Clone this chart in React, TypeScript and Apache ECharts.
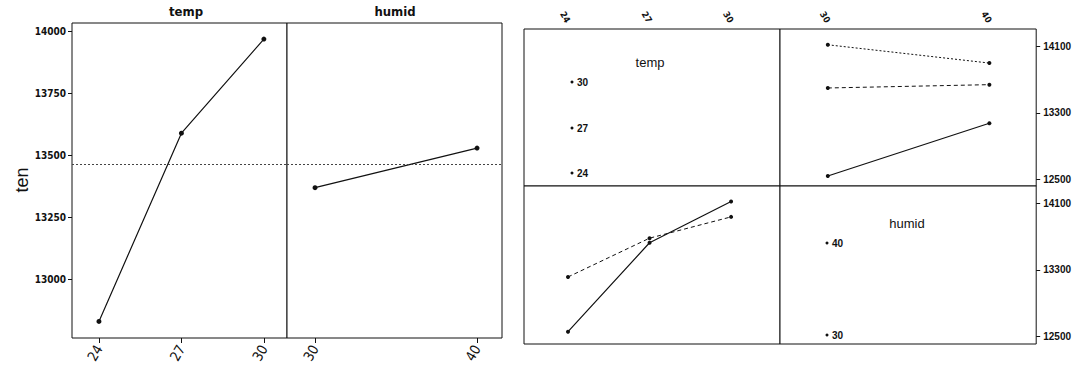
import React, { useEffect, useRef } from "react";
import * as echarts from "echarts";

// ---- data ----
const tempLevels = [24, 27, 30];
const humidLevels = [30, 40];
const tempMeans = [12830, 13590, 13970];
const humidMeans = [13370, 13530];
const grandMean = 13465;
const mainTicks = [13000, 13250, 13500, 13750, 14000];
const interTicks = [12500, 13300, 14100];
// top-right panel: x = humid, one line per temp level
const temp24ByHumid = [12540, 13175];
const temp27ByHumid = [13600, 13640];
const temp30ByHumid = [14120, 13900];
// bottom-left panel: x = temp, one line per humid level
const humid30ByTemp = [12560, 13625, 14120];
const humid40ByTemp = [13215, 13680, 13935];

const FONT = "'DejaVu Sans Condensed', 'Liberation Sans Narrow', 'Liberation Sans', sans-serif";
const SANS = "'Liberation Sans', Arial, sans-serif";
const INK = "#111";

const pairs = (xs: number[], ys: number[]) => xs.map((x, i) => [x, ys[i]]);
const plain = (v: number) => String(v);

export default function App() {
  const ref = useRef<HTMLDivElement>(null);
  useEffect(() => {
    if (!ref.current) return;
    const chart = echarts.init(ref.current, undefined, { renderer: "svg" });
    const gridBase = { show: true, borderColor: INK, borderWidth: 1, backgroundColor: "#fff" };
    const hidden = (gridIndex: number, min: number, max: number) => ({
      type: "value", gridIndex, min, max, show: false, splitLine: { show: false },
    });
    const mainLine = (xi: number, yi: number, xs: number[], ys: number[]) => ({
      type: "line", xAxisIndex: xi, yAxisIndex: yi, data: pairs(xs, ys),
      symbol: "circle", symbolSize: 5, itemStyle: { color: INK },
      lineStyle: { color: INK, width: 1.2 },
      markLine: {
        silent: true, symbol: "none", label: { show: false },
        lineStyle: { color: "#444", type: [2, 2], width: 1 },
        data: [{ yAxis: grandMean }],
      },
    });
    const interLine = (xi: number, yi: number, xs: number[], ys: number[], type: any, w = 1.2) => ({
      type: "line", xAxisIndex: xi, yAxisIndex: yi, data: pairs(xs, ys),
      symbol: "circle", symbolSize: 4, itemStyle: { color: INK },
      lineStyle: { color: INK, width: w, type },
    });
    const legendItem = (x: number, y: number, label: string) => [
      { type: "circle", shape: { cx: x, cy: y, r: 1.5 }, style: { fill: INK } },
      { type: "text", x: x + 5, y, style: { text: label, font: `bold 10px ${SANS}`, fill: INK, textVerticalAlign: "middle" } },
    ];
    const rightAxis = (gridIndex: number, min: number, max: number) => ({
      type: "value", gridIndex, position: "right", min, max, splitLine: { show: false },
      axisLine: { show: false },
      axisTick: { show: true, customValues: interTicks, length: 4, lineStyle: { color: INK } },
      axisLabel: { customValues: interTicks, formatter: plain, fontSize: 10, fontWeight: "bold", fontFamily: SANS, color: INK, margin: 7 },
    });

    const option: any = {
      animation: false,
      backgroundColor: "#fff",
      grid: [
        { ...gridBase, left: 72, top: 23, width: 215, height: 315 },
        { ...gridBase, left: 287, top: 23, width: 215, height: 315 },
        { ...gridBase, left: 524, top: 29, width: 256, height: 157 },
        { ...gridBase, left: 780, top: 29, width: 257, height: 157 },
        { ...gridBase, left: 524, top: 186, width: 256, height: 158 },
        { ...gridBase, left: 780, top: 186, width: 257, height: 158 },
      ],
      xAxis: [
        {
          type: "value", gridIndex: 0, min: 23.02, max: 30.84, splitLine: { show: false },
          axisLine: { show: false },
          axisTick: { show: true, customValues: tempLevels, length: 5, lineStyle: { color: INK } },
          axisLabel: { customValues: tempLevels, rotate: 60, fontSize: 14, fontFamily: FONT, color: INK, margin: 8 },
        },
        {
          type: "value", gridIndex: 1, min: 28.27, max: 41.54, splitLine: { show: false },
          axisLine: { show: false },
          axisTick: { show: true, customValues: humidLevels, length: 5, lineStyle: { color: INK } },
          axisLabel: { customValues: humidLevels, rotate: 60, fontSize: 14, fontFamily: FONT, color: INK, margin: 8 },
        },
        {
          type: "value", gridIndex: 2, position: "top", min: 22.38, max: 31.8, splitLine: { show: false },
          axisLine: { show: false }, axisTick: { show: false },
          axisLabel: { customValues: tempLevels, rotate: 60, fontSize: 9, fontFamily: FONT, fontWeight: "bold", color: INK, margin: 7 },
        },
        {
          type: "value", gridIndex: 3, position: "top", min: 27.04, max: 42.9, splitLine: { show: false },
          axisLine: { show: false }, axisTick: { show: false },
          axisLabel: { customValues: humidLevels, rotate: 60, fontSize: 9, fontFamily: FONT, fontWeight: "bold", color: INK, margin: 7 },
        },
        hidden(4, 22.38, 31.8),
        hidden(5, 27.04, 42.9),
      ],
      yAxis: [
        {
          type: "value", gridIndex: 0, min: 12763, max: 14035, splitLine: { show: false },
          axisLine: { show: false },
          axisTick: { show: true, customValues: mainTicks, length: 4, lineStyle: { color: INK } },
          axisLabel: { customValues: mainTicks, formatter: plain, fontSize: 10, fontWeight: "bold", fontFamily: FONT, color: INK, margin: 6 },
        },
        hidden(1, 12763, 14035),
        hidden(2, 12420, 14310),
        rightAxis(3, 12420, 14310),
        hidden(4, 12412, 14305),
        rightAxis(5, 12412, 14305),
      ],
      series: [
        mainLine(0, 0, tempLevels, tempMeans),
        mainLine(1, 1, humidLevels, humidMeans),
        interLine(3, 3, humidLevels, temp24ByHumid, "solid"),
        interLine(3, 3, humidLevels, temp27ByHumid, [4, 3], 1),
        interLine(3, 3, humidLevels, temp30ByHumid, [2, 2], 1),
        interLine(4, 4, tempLevels, humid30ByTemp, "solid"),
        interLine(4, 4, tempLevels, humid40ByTemp, [4, 3], 1),
      ],
      graphic: [
        { type: "text", x: 22, y: 180, rotation: Math.PI / 2, style: { text: "ten", font: `18px ${SANS}`, fill: INK, textAlign: "center", textVerticalAlign: "middle" } },
        { type: "text", x: 186, y: 11, style: { text: "temp", font: `bold 13px ${FONT}`, fill: INK, textAlign: "center", textVerticalAlign: "middle" } },
        { type: "text", x: 395, y: 11, style: { text: "humid", font: `bold 13px ${FONT}`, fill: INK, textAlign: "center", textVerticalAlign: "middle" } },
        { type: "text", x: 650, y: 62, style: { text: "temp", font: `13px ${SANS}`, fill: INK, textAlign: "center", textVerticalAlign: "middle" } },
        ...legendItem(572, 82, "30"),
        ...legendItem(572, 128, "27"),
        ...legendItem(572, 173, "24"),
        { type: "text", x: 907, y: 223, style: { text: "humid", font: `13px ${SANS}`, fill: INK, textAlign: "center", textVerticalAlign: "middle" } },
        ...legendItem(827, 243, "40"),
        ...legendItem(827, 335, "30"),
      ],
    };
    chart.setOption(option);
    return () => chart.dispose();
  }, []);
  return (
    <div
      ref={ref}
      style={{ position: "fixed", left: 0, top: 0, width: 1074, height: 374, background: "#fff" }}
    />
  );
}
